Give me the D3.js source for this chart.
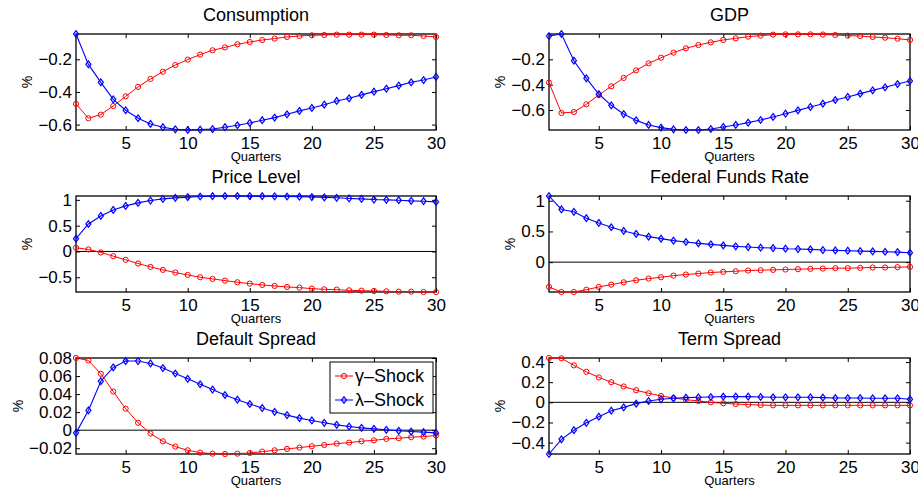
<!DOCTYPE html>
<html>
<head>
  <meta charset="UTF-8">
  <style>
    body { margin: 0; background: #fff; }
    svg { display: block; font-family: "Liberation Sans", Arial, Helvetica, sans-serif; }
    .tick line { stroke: #000; }
  </style>
</head>
<body>
<svg></svg>
<script src="https://d3js.org/d3.v7.min.js"></script>
<script>
let width = 918, height = 490;

// quarters on the x axis
const quarters = [1,2,3,4,5,6,7,8,9,10,11,12,13,14,15,16,17,18,19,20,21,22,23,24,25,26,27,28,29,30];
const xTicks = [5, 10, 15, 20, 25, 30];

// impulse responses (gamma = red, lambda = blue)
const consGamma = [-0.473,-0.561,-0.539,-0.486,-0.427,-0.369,-0.320,-0.276,-0.235,-0.202,-0.171,-0.145,-0.127,-0.108,-0.094,-0.082,-0.073,-0.063,-0.057,-0.053,-0.051,-0.049,-0.049,-0.049,-0.049,-0.051,-0.053,-0.053,-0.057,-0.063];
const consLambda = [-0.045,-0.231,-0.341,-0.445,-0.512,-0.561,-0.596,-0.616,-0.629,-0.633,-0.631,-0.627,-0.616,-0.604,-0.590,-0.573,-0.557,-0.537,-0.516,-0.498,-0.478,-0.455,-0.439,-0.418,-0.398,-0.380,-0.361,-0.341,-0.327,-0.308];

const gdpGamma = [-0.384,-0.624,-0.616,-0.555,-0.482,-0.413,-0.347,-0.287,-0.232,-0.187,-0.147,-0.113,-0.087,-0.066,-0.047,-0.034,-0.021,-0.013,-0.005,-0.003,-0.003,-0.003,-0.004,-0.008,-0.013,-0.016,-0.024,-0.029,-0.037,-0.047];
const gdpLambda = [-0.016,0.000,-0.211,-0.350,-0.474,-0.563,-0.632,-0.682,-0.718,-0.739,-0.753,-0.758,-0.758,-0.750,-0.734,-0.718,-0.700,-0.679,-0.655,-0.629,-0.603,-0.576,-0.550,-0.521,-0.497,-0.471,-0.445,-0.421,-0.395,-0.371];

const priceGamma = [0.071,0.039,-0.019,-0.091,-0.162,-0.234,-0.299,-0.357,-0.409,-0.455,-0.500,-0.532,-0.565,-0.597,-0.623,-0.649,-0.669,-0.688,-0.701,-0.721,-0.734,-0.740,-0.753,-0.760,-0.766,-0.773,-0.779,-0.779,-0.786,-0.786];
const priceLambda = [0.247,0.532,0.688,0.805,0.883,0.942,0.987,1.019,1.039,1.052,1.065,1.071,1.075,1.075,1.073,1.071,1.068,1.065,1.062,1.055,1.048,1.040,1.028,1.019,1.006,1.000,0.994,0.981,0.974,0.961];

const ffrGamma = [-0.404,-0.486,-0.486,-0.448,-0.404,-0.366,-0.328,-0.295,-0.268,-0.246,-0.219,-0.202,-0.186,-0.169,-0.158,-0.148,-0.137,-0.131,-0.126,-0.120,-0.115,-0.109,-0.104,-0.098,-0.098,-0.093,-0.087,-0.087,-0.082,-0.077];
const ffrLambda = [1.077,0.858,0.820,0.716,0.639,0.568,0.508,0.459,0.415,0.383,0.350,0.328,0.306,0.290,0.273,0.257,0.246,0.235,0.230,0.219,0.213,0.208,0.197,0.191,0.186,0.180,0.175,0.169,0.164,0.153];

const dsGamma = [0.0800,0.0773,0.0625,0.0428,0.0238,0.0082,-0.0037,-0.0123,-0.0182,-0.0223,-0.0249,-0.0260,-0.0264,-0.0260,-0.0253,-0.0238,-0.0223,-0.0208,-0.0193,-0.0178,-0.0164,-0.0149,-0.0138,-0.0123,-0.0112,-0.0097,-0.0089,-0.0078,-0.0071,-0.0059];
const dsLambda = [-0.0030,0.0219,0.0543,0.0695,0.0766,0.0766,0.0740,0.0688,0.0628,0.0569,0.0509,0.0450,0.0390,0.0338,0.0290,0.0245,0.0204,0.0167,0.0134,0.0108,0.0082,0.0059,0.0041,0.0026,0.0015,0.0004,-0.0007,-0.0015,-0.0022,-0.0030];

const tsGamma = [0.440,0.437,0.367,0.303,0.247,0.200,0.157,0.120,0.090,0.063,0.043,0.027,0.013,0.000,-0.010,-0.017,-0.023,-0.027,-0.030,-0.030,-0.030,-0.030,-0.030,-0.030,-0.030,-0.030,-0.030,-0.030,-0.030,-0.030];
const tsLambda = [-0.513,-0.367,-0.277,-0.203,-0.143,-0.083,-0.050,-0.013,0.013,0.030,0.040,0.047,0.050,0.053,0.057,0.057,0.057,0.053,0.050,0.050,0.050,0.050,0.047,0.043,0.043,0.043,0.040,0.040,0.040,0.030];

const titles = ["Consumption", "GDP", "Price Level", "Federal Funds Rate", "Default Spread", "Term Spread"];
const yTicks = [
  [-0.6, -0.4, -0.2],
  [-0.6, -0.4, -0.2],
  [-0.5, 0, 0.5, 1],
  [0, 0.5, 1],
  [-0.02, 0, 0.02, 0.04, 0.06, 0.08],
  [-0.4, -0.2, 0, 0.2, 0.4]
];
const gammaSeries = [consGamma, gdpGamma, priceGamma, ffrGamma, dsGamma, tsGamma];
const lambdaSeries = [consLambda, gdpLambda, priceLambda, ffrLambda, dsLambda, tsLambda];
const legendLabels = ["\u03b3\u2013Shock", "\u03bb\u2013Shock"];

// subplot geometry
const colX = [[76, 436], [549, 910]];
const rowY = [[34, 130], [196, 292], [358, 454]];

let svg = d3.select("svg").attr("width", width).attr("height", height);

let fmt = d3.format("~g");
let diamond = d3.symbol().type(d3.symbolDiamond).size(13);
let diamondScale = "scale(1.3,1)";

titles.forEach((title, i) => {
  let [x0, x1] = colX[i % 2];
  let [y0, y1] = rowY[Math.floor(i / 2)];
  let g = svg.append("g");

  let all = gammaSeries[i].concat(lambdaSeries[i]);
  let x = d3.scaleLinear().domain([1, 30]).range([x0, x1]);
  let y = d3.scaleLinear().domain(d3.extent(all)).range([y1, y0]);

  // axes: inward ticks on all four sides
  g.append("g").attr("transform", `translate(0,${y1})`)
    .call(d3.axisBottom(x).tickValues(xTicks).tickSizeInner(-4).tickSizeOuter(0).tickPadding(7).tickFormat(fmt));
  g.append("g").attr("transform", `translate(0,${y0})`)
    .call(d3.axisTop(x).tickValues(xTicks).tickSizeInner(-4).tickSizeOuter(0).tickFormat(""));
  let left = g.append("g").attr("transform", `translate(${x0},0)`)
    .call(d3.axisLeft(y).tickValues(yTicks[i]).tickSizeInner(-4).tickSizeOuter(0).tickPadding(4).tickFormat(fmt));
  g.append("g").attr("transform", `translate(${x1},0)`)
    .call(d3.axisRight(y).tickValues(yTicks[i]).tickSizeInner(-4).tickSizeOuter(0).tickFormat(""));
  g.selectAll(".domain").remove();
  g.selectAll(".tick text").attr("font-size", 17).attr("fill", "#000").attr("font-family", null);

  // zero line
  let d = y.domain();
  if (d[0] < 0 && d[1] > 0) {
    g.append("line")
      .attr("x1", x0).attr("x2", x1)
      .attr("y1", y(0)).attr("y2", y(0))
      .attr("stroke", "#000").attr("stroke-width", 1);
  }

  // box
  g.append("rect")
    .attr("x", x0).attr("y", y0)
    .attr("width", x1 - x0).attr("height", y1 - y0)
    .attr("fill", "none").attr("stroke", "#000").attr("stroke-width", 1.3);

  // series
  let line = d3.line().x((v, k) => x(quarters[k])).y(v => y(v));
  g.append("path").datum(gammaSeries[i])
    .attr("d", line).attr("fill", "none").attr("stroke", "#ff0000").attr("stroke-width", 1);
  g.selectAll(".cg").data(gammaSeries[i]).enter().append("circle")
    .attr("cx", (v, k) => x(quarters[k])).attr("cy", v => y(v)).attr("r", 2.6)
    .attr("fill", "none").attr("stroke", "#ff0000").attr("stroke-width", 1);

  g.append("path").datum(lambdaSeries[i])
    .attr("d", line).attr("fill", "none").attr("stroke", "#0000ff").attr("stroke-width", 1.1);
  g.selectAll(".dl").data(lambdaSeries[i]).enter().append("path")
    .attr("d", diamond)
    .attr("transform", (v, k) => `translate(${x(quarters[k])},${y(v)}) ${diamondScale}`)
    .attr("fill", "none").attr("stroke", "#0000ff").attr("stroke-width", 1);

  // labels
  g.append("text")
    .attr("x", (x0 + x1) / 2).attr("y", y0 - 13)
    .attr("text-anchor", "middle").attr("font-size", 18)
    .text(title);
  g.append("text")
    .attr("x", (x0 + x1) / 2).attr("y", y1 + 31)
    .attr("text-anchor", "middle").attr("font-size", 13)
    .text("Quarters");

  let maxW = 0;
  left.selectAll(".tick text").each(function () {
    maxW = Math.max(maxW, this.getComputedTextLength());
  });
  let lx = x0 - 4 - maxW - 6;
  g.append("text")
    .attr("transform", `translate(${lx},${(y0 + y1) / 2}) rotate(-90)`)
    .attr("text-anchor", "middle").attr("font-size", 14)
    .text("%");

  // legend in the Default Spread panel
  if (i === 4) {
    let lg = g.append("g").attr("transform", "translate(330,362)");
    lg.append("rect").attr("width", 103).attr("height", 51)
      .attr("fill", "#fff").attr("stroke", "#000").attr("stroke-width", 1);
    let colors = ["#ff0000", "#0000ff"];
    legendLabels.forEach((lab, j) => {
      let cy = 14 + j * 24;
      lg.append("line").attr("x1", 5).attr("x2", 23).attr("y1", cy).attr("y2", cy)
        .attr("stroke", colors[j]).attr("stroke-width", 1);
      if (j === 0) {
        lg.append("circle").attr("cx", 14).attr("cy", cy).attr("r", 2.6)
          .attr("fill", "none").attr("stroke", colors[j]);
      } else {
        lg.append("path").attr("d", diamond)
          .attr("transform", `translate(14,${cy}) ${diamondScale}`)
          .attr("fill", "none").attr("stroke", colors[j]);
      }
      lg.append("text").attr("x", 25).attr("y", cy + 6)
        .attr("font-size", 18).text(lab);
    });
  }
});
</script>
</body>
</html>
